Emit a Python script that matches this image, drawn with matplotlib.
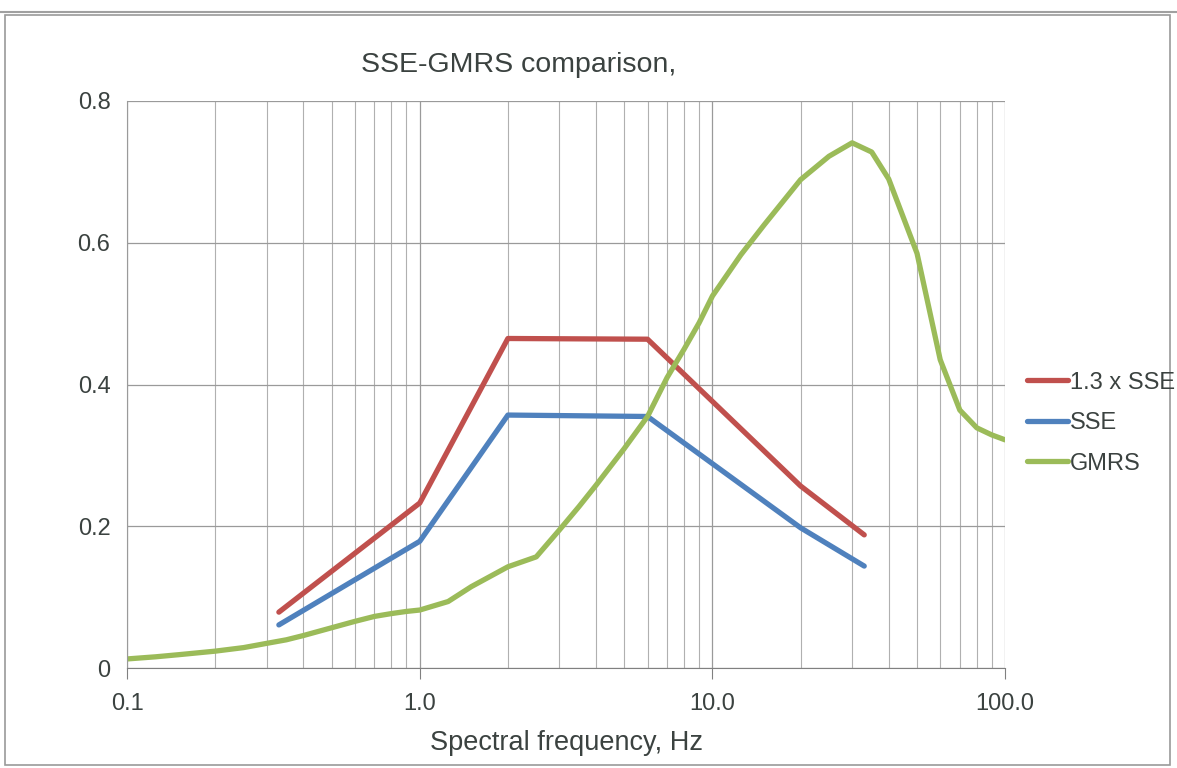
import numpy as np
import matplotlib
matplotlib.use("Agg")
import matplotlib.pyplot as plt
from matplotlib.ticker import FixedLocator, LogLocator, NullFormatter
from matplotlib.patches import Rectangle

# === data ===
sse_freq = [0.33, 1.0, 2.0, 6.0, 20.0, 33.0]
sse_13 = [0.079, 0.233, 0.465, 0.464, 0.257, 0.188]
sse = [0.061, 0.179, 0.357, 0.355, 0.198, 0.144]

gmrs_freq = [0.1, 0.125, 0.15, 0.2, 0.25, 0.3, 0.35, 0.4, 0.5, 0.6, 0.7, 0.8, 0.9,
             1.0, 1.25, 1.5, 2.0, 2.5, 3.0, 3.5, 4.0, 5.0, 6.0, 7.0, 8.0, 9.0,
             10.0, 12.5, 15.0, 20.0, 25.0, 30.0, 35.0, 40.0, 50.0, 60.0, 70.0,
             80.0, 90.0, 100.0]
gmrs = [0.013, 0.016, 0.019, 0.024, 0.029, 0.035, 0.040, 0.046, 0.057, 0.066,
        0.073, 0.077, 0.080, 0.082, 0.094, 0.115, 0.143, 0.157, 0.195, 0.228,
        0.258, 0.310, 0.355, 0.410, 0.450, 0.487, 0.525, 0.583, 0.625, 0.689,
        0.722, 0.741, 0.728, 0.690, 0.585, 0.435, 0.364, 0.339, 0.329, 0.322]

x_ticks = [0.1, 1.0, 10.0, 100.0]
x_labels = ["0.1", "1.0", "10.0", "100.0"]
y_ticks = [0, 0.2, 0.4, 0.6, 0.8]
y_labels = ["0", "0.2", "0.4", "0.6", "0.8"]

TXT = "#3b4240"
plt.rcParams["font.family"] = ["Liberation Sans", "DejaVu Sans"]

fig = plt.figure(figsize=(11.77, 7.68), dpi=100)
ax = fig.add_axes([0.108, 0.130, 0.746, 0.7385])

ax.plot(sse_freq, sse_13, color="#C0504D", lw=3.8, label="1.3 x SSE", solid_capstyle="round")
ax.plot(sse_freq, sse, color="#4F81BD", lw=3.8, label="SSE", solid_capstyle="round")
ax.plot(gmrs_freq, gmrs, color="#9BBB59", lw=3.8, label="GMRS", solid_capstyle="round")

ax.set_xscale("log")
ax.set_xlim(0.1, 100)
ax.set_ylim(0, 0.8)
ax.xaxis.set_major_locator(FixedLocator(x_ticks))
ax.set_xticklabels(x_labels)
ax.xaxis.set_minor_locator(LogLocator(base=10, subs=np.arange(2, 10)))
ax.xaxis.set_minor_formatter(NullFormatter())
ax.set_yticks(y_ticks)
ax.set_yticklabels(y_labels)

ax.grid(True, which="major", color="#9a9a9a", lw=0.9)
ax.grid(True, which="minor", axis="x", color="#b0b0b0", lw=0.8)
ax.set_axisbelow(True)

for s in ["top", "right"]:
    ax.spines[s].set_visible(False)
ax.spines["left"].set_color("#9a9a9a")
ax.spines["bottom"].set_color("#808080")
ax.tick_params(axis="x", which="major", length=8, color="#808080", labelsize=17,
               labelcolor=TXT, pad=10)
ax.tick_params(axis="x", which="minor", length=0)
ax.tick_params(axis="y", length=0, labelsize=17, labelcolor=TXT, pad=12)

ax.set_xlabel("Spectral frequency, Hz", fontsize=19.5, color=TXT, labelpad=11)
fig.text(0.441, 0.915, "SSE-GMRS comparison,", fontsize=20.5, color=TXT,
         ha="center", va="center")

fig.legend(loc="center left", bbox_to_anchor=(0.8726, 0.449), frameon=False,
           fontsize=17, handlelength=1.75, handletextpad=0.05, labelspacing=0.78,
           borderpad=0, borderaxespad=0, labelcolor=TXT)

# scanned chart frame
fig.patches.append(Rectangle((0.004, 0.004), 0.99, 0.976, transform=fig.transFigure,
                             fill=False, edgecolor="#9a9a9a", lw=1.2))
fig.add_artist(plt.Line2D([0, 1], [0.985, 0.985], transform=fig.transFigure,
                          color="#a0a0a0", lw=1.5))

fig.savefig("out.png", dpi=100)
